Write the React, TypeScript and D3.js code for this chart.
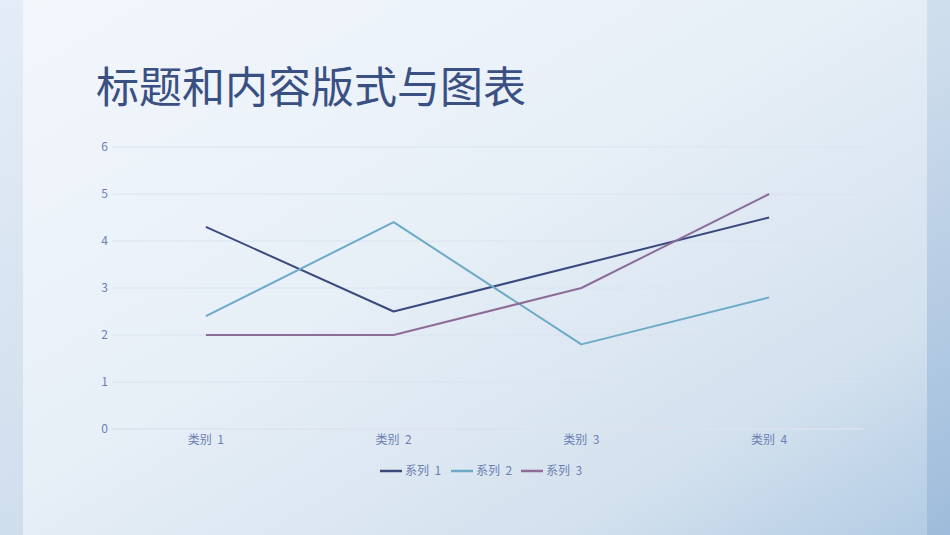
import { useRef, useEffect } from 'react';
import * as d3 from 'd3';

const categories = ['类别 1', '类别 2', '类别 3', '类别 4'];
const seriesNames = ['系列 1', '系列 2', '系列 3'];
const series1 = [4.3, 2.5, 3.5, 4.5];
const series2 = [2.4, 4.4, 1.8, 2.8];
const series3 = [2, 2, 3, 5];
const yTicks = [0, 1, 2, 3, 4, 5, 6];
const colors = ['#3b4a7c', '#6eaac6', '#8d6d98'];

const W = 950;
const H = 535;
const FONT = '"Noto Sans CJK SC", "Noto Sans", sans-serif';

const App = () => {
  const svgRef = useRef(null);

  useEffect(() => {
    const svg = d3.select(svgRef.current);
    svg.selectAll('*').remove();

    // background gradients
    const defs = svg.append('defs');
    const outer = defs
      .append('linearGradient')
      .attr('id', 'outer')
      .attr('x1', '0')
      .attr('y1', '0')
      .attr('x2', '1')
      .attr('y2', '1');
    outer.append('stop').attr('offset', '0%').attr('stop-color', '#e4edf7');
    outer.append('stop').attr('offset', '55%').attr('stop-color', '#cddcec');
    outer.append('stop').attr('offset', '100%').attr('stop-color', '#9ebcdb');

    const panel = defs
      .append('linearGradient')
      .attr('id', 'panel')
      .attr('x1', '0')
      .attr('y1', '0')
      .attr('x2', '1')
      .attr('y2', '1');
    panel.append('stop').attr('offset', '0%').attr('stop-color', '#f3f7fc');
    panel.append('stop').attr('offset', '45%').attr('stop-color', '#e7eff7');
    panel.append('stop').attr('offset', '80%').attr('stop-color', '#d3e1ee');
    panel.append('stop').attr('offset', '100%').attr('stop-color', '#b3cce4');

    svg.append('rect').attr('width', W).attr('height', H).attr('fill', 'url(#outer)');
    svg
      .append('rect')
      .attr('x', 23)
      .attr('y', 0)
      .attr('width', 904)
      .attr('height', H)
      .attr('fill', 'url(#panel)');

    // title
    svg
      .append('text')
      .attr('x', 96)
      .attr('y', 103)
      .attr('font-family', FONT)
      .attr('font-size', 43)
      .attr('fill', '#3a4f82')
      .text('标题和内容版式与图表');

    const margin = { left: 112, right: 87, top: 147, bottom: 106 };
    const innerW = W - margin.left - margin.right;
    const innerH = H - margin.top - margin.bottom;

    const g = svg.append('g').attr('transform', `translate(${margin.left}, ${margin.top})`);

    const x = d3.scaleBand().domain(categories).range([0, innerW]);
    const y = d3.scaleLinear().domain([0, 6]).range([innerH, 0]);

    // gridlines
    g.selectAll('.grid')
      .data(yTicks)
      .join('line')
      .attr('x1', 0)
      .attr('x2', innerW)
      .attr('y1', (d) => y(d))
      .attr('y2', (d) => y(d))
      .attr('stroke', (d) => (d === 0 ? '#dde2ee' : '#d9e3ef'))
      .attr('stroke-width', (d) => (d === 0 ? 1.3 : 0.9));

    // y labels
    g.selectAll('.ylab')
      .data(yTicks)
      .join('text')
      .attr('x', -4)
      .attr('y', (d) => y(d))
      .attr('dy', '0.35em')
      .attr('text-anchor', 'end')
      .attr('font-family', FONT)
      .attr('font-size', 12)
      .attr('fill', '#6c7fb3')
      .text((d) => d);

    // x labels
    g.selectAll('.xlab')
      .data(categories)
      .join('text')
      .attr('x', (d) => (x(d) as number) + x.bandwidth() / 2)
      .attr('y', innerH + 15)
      .attr('text-anchor', 'middle')
      .attr('font-family', FONT)
      .attr('font-size', 12)
      .attr('fill', '#6c7fb3')
      .attr('xml:space', 'preserve')
      .text((d) => d.replace(' ', '  '));

    const allSeries = [series1, series2, series3];
    const line = d3
      .line<number>()
      .x((_, i) => (x(categories[i]) as number) + x.bandwidth() / 2)
      .y((d) => y(d));

    allSeries.forEach((s, i) => {
      g.append('path')
        .datum(s)
        .attr('fill', 'none')
        .attr('stroke', colors[i])
        .attr('stroke-width', 2)
        .attr('stroke-linejoin', 'round')
        .attr('d', line);
    });

    // legend
    const legendX = [380, 451, 521];
    const legend = svg.append('g').attr('transform', 'translate(0, 471)');
    seriesNames.forEach((name, i) => {
      legend
        .append('line')
        .attr('x1', legendX[i])
        .attr('x2', legendX[i] + 22)
        .attr('y1', 0)
        .attr('y2', 0)
        .attr('stroke', colors[i])
        .attr('stroke-width', 2.5);
      legend
        .append('text')
        .attr('x', legendX[i] + 25)
        .attr('y', 0)
        .attr('dy', '0.35em')
        .attr('font-family', FONT)
        .attr('font-size', 12)
        .attr('fill', '#6c7fb3')
        .attr('xml:space', 'preserve')
        .text(name.replace(' ', '  '));
    });
  }, []);

  return (
    <div style={{ position: 'fixed', left: 0, top: 0 }}>
      <svg ref={svgRef} width={W} height={H} style={{ display: 'block' }} />
    </div>
  );
};

export default App;
